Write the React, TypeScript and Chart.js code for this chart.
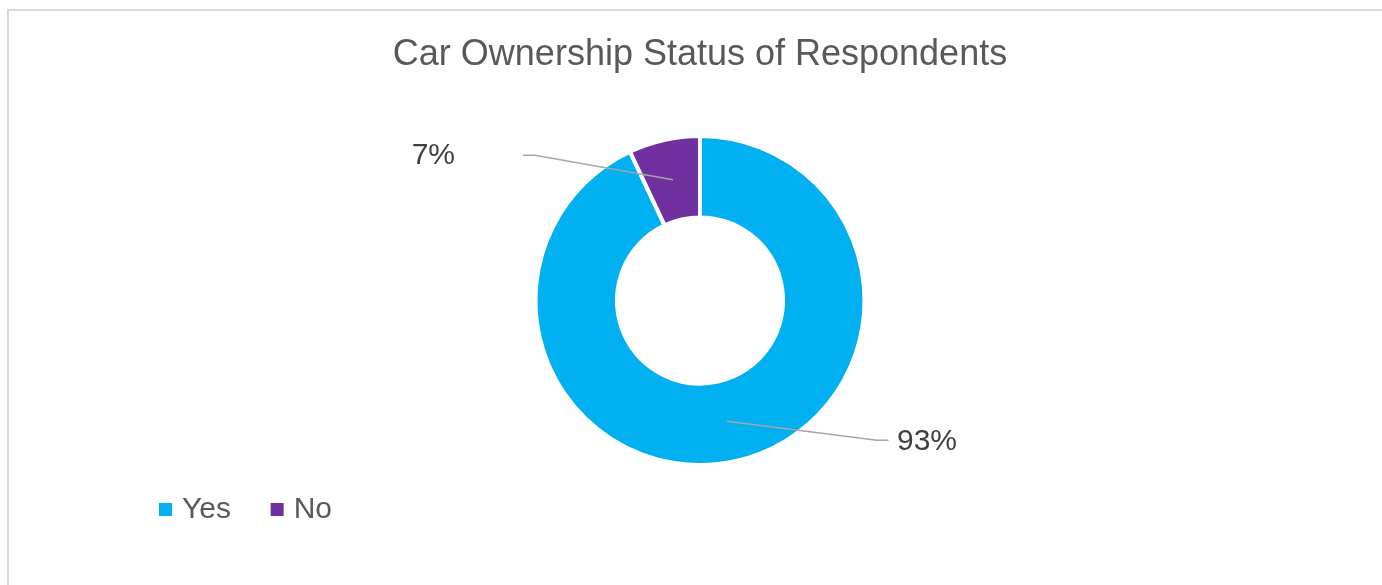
import React, { useEffect, useRef } from "react";
import { Chart, registerables } from "chart.js";

Chart.register(...registerables);

const TITLE = "Car Ownership Status of Respondents";
const categories = ["Yes", "No"];
const shares = [93, 7];
const sliceColors = ["#00B0F0", "#7030A0"];

const FONT = "'Liberation Sans', Arial, sans-serif";

// label leader layout (style only): elbow offset from slice centroid, tail length, text gap
const LABEL_LAYOUT = [
  { elbowDx: 150, elbowDy: 19, tail: 11.5, gap: 8.5, align: "left" as CanvasTextAlign },
  { elbowDx: -138, elbowDy: -24.5, tail: -12, gap: -68, align: "right" as CanvasTextAlign },
];

const leaderLabels = {
  id: "leaderLabels",
  afterDatasetsDraw(chart: any) {
    const ctx = chart.ctx as CanvasRenderingContext2D;
    const meta = chart.getDatasetMeta(0);
    const data = chart.data.datasets[0].data as number[];
    const total = data.reduce((a, b) => a + b, 0);
    meta.data.forEach((arc: any, i: number) => {
      const cfg = LABEL_LAYOUT[i];
      const p = arc.tooltipPosition(false);
      const ex = p.x + cfg.elbowDx;
      const ey = p.y + cfg.elbowDy;
      const tx = ex + cfg.tail;
      ctx.save();
      ctx.strokeStyle = "#A6A6A6";
      ctx.lineWidth = 1.5;
      ctx.beginPath();
      ctx.moveTo(p.x, p.y);
      ctx.lineTo(ex, ey);
      ctx.lineTo(tx, ey);
      ctx.stroke();
      ctx.fillStyle = "#404040";
      ctx.font = `30px ${FONT}`;
      ctx.textAlign = cfg.align;
      ctx.textBaseline = "middle";
      const pct = Math.round((data[i] / total) * 100);
      ctx.fillText(`${pct}%`, tx + cfg.gap, ey + 1);
      ctx.restore();
    });
  },
};

export default function App() {
  const canvasRef = useRef<HTMLCanvasElement | null>(null);

  useEffect(() => {
    if (!canvasRef.current) return;
    const chart = new Chart(canvasRef.current, {
      type: "doughnut",
      data: {
        labels: categories,
        datasets: [
          {
            data: shares,
            backgroundColor: sliceColors,
            borderColor: "#FFFFFF",
            borderWidth: 4,
            hoverOffset: 0,
          },
        ],
      },
      options: {
        responsive: false,
        animation: false,
        radius: 164.5,
        cutout: "50.5%",
        layout: { padding: { left: 119.3, right: 101.3, top: 10, bottom: 50.5 } },
        plugins: {
          tooltip: { enabled: false },
          title: {
            display: true,
            text: TITLE,
            color: "#595959",
            font: { family: FONT, size: 36, weight: "normal" },
            padding: { top: 23.5, bottom: 74.5 },
          },
          legend: {
            position: "bottom",
            align: "start",
            labels: {
              usePointStyle: true,
              pointStyle: "rect",
              boxWidth: 3,
              boxHeight: 13,
              padding: 44.7,
              color: "#595959",
              font: { family: FONT, size: 30 },
              generateLabels(c: any) {
                const base = (Chart as any).overrides.doughnut.plugins.legend.labels.generateLabels(c);
                return base.map((it: any) => ({ ...it, lineWidth: 0, pointStyle: "rect" }));
              },
            },
          },
        },
      } as any,
      plugins: [leaderLabels],
    });
    return () => chart.destroy();
  }, []);

  return (
    <div style={{ position: "absolute", left: 0, top: 0, width: 1382, height: 585, background: "#FFFFFF", overflow: "hidden" }}>
      <div
        style={{
          position: "absolute",
          left: 7,
          top: 9,
          width: 1382 - 7,
          height: 585 - 9,
          boxSizing: "border-box",
          borderTop: "2px solid #D9D9D9",
          borderLeft: "2px solid #D9D9D9",
        }}
      />
      <canvas ref={canvasRef} width={1382} height={585} style={{ position: "absolute", left: 0, top: 0 }} />
    </div>
  );
}
